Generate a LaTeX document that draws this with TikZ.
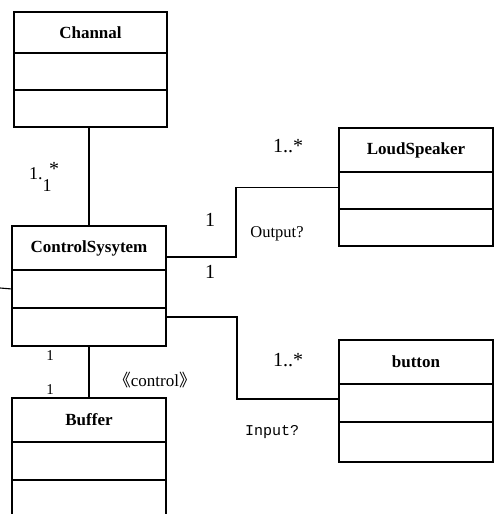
\documentclass[tikz,border=0pt]{standalone}
\usepackage{fontspec}
\setmainfont{Liberation Serif}
\newfontfamily\cjkfont{Noto Sans CJK SC}
\newfontfamily\monofont{Liberation Mono}
\usetikzlibrary{calc}
\begin{document}
\begin{tikzpicture}[x=1pt,y=-1pt]
\tikzset{
  comp/.style={draw, line width=1.5pt, minimum width=154pt, inner sep=0pt, outer sep=0pt,
    anchor=north west, font=\fontsize{17}{17}\selectfont\bfseries},
  conn/.style={line width=1.1pt},
  lab/.style={font=\fontsize{20}{20}\selectfont, inner sep=0pt},
  smlab/.style={font=\fontsize{15}{15}\selectfont, inner sep=0pt},
}
\useasboundingbox[fill=white] (0,0) rectangle (502,514);
\clip (0,0) rectangle (502,514);

% Channal
\node[comp, minimum height=41pt, minimum width=153pt] (ch1) at (14,12) {Channal};
\node[comp, minimum height=37pt, minimum width=153pt] (ch2) at (14,53) {};
\node[comp, minimum height=37pt, minimum width=153pt] (ch3) at (14,90) {};

% ControlSysytem
\node[comp, minimum height=44pt] (cs1) at (12,226) {ControlSysytem};
\node[comp, minimum height=38pt] (cs2) at (12,270) {};
\node[comp, minimum height=38pt] (cs3) at (12,308) {};

% LoudSpeaker
\node[comp, minimum height=44pt] (ls1) at (339,128) {LoudSpeaker};
\node[comp, minimum height=37pt] (ls2) at (339,172) {};
\node[comp, minimum height=37pt] (ls3) at (339,209) {};

% button
\node[comp, minimum height=44pt] (bt1) at (339,340) {button};
\node[comp, minimum height=38pt] (bt2) at (339,384) {};
\node[comp, minimum height=40pt] (bt3) at (339,422) {};

% Buffer
\node[comp, minimum height=44pt] (bf1) at (12,398) {Buffer};
\node[comp, minimum height=38pt] (bf2) at (12,442) {};
\node[comp, minimum height=50pt] (bf3) at (12,480) {};

% connectors
\draw[conn] (cs1.north) -- (cs1.north |- ch3.south);
\coordinate (stub) at (0,288);
\draw[conn] (cs2.west) -- (stub);
\draw[conn] ($(cs1.east)+(0,9)$) -| ($(ls2.west)+(-103,-3)$) -- ($(ls2.west)+(0,-3)$);
\draw[conn] ($(cs3.east)+(0,-10)$) -| ($(bt2.west)+(-102,-4)$) -- ($(bt2.west)+(0,-4)$);
\draw[conn] (cs3.south) -- (bf1.north);

% labels
\node[font=\fontsize{18}{18}\selectfont, inner sep=0pt, anchor=west] (m1a) at (29,174) {1.};
\node[font=\fontsize{18}{18}\selectfont, inner sep=0pt] (m1b) at (47,186) {1};
\node[font=\fontsize{20}{20}\selectfont, inner sep=0pt] (m1c) at (54,169) {*};
\node[lab] (m2) at (288,146) {1..*};
\node[lab] (m3) at (210,220) {1};
\node[lab] (m4) at (210,272) {1};
\node[font=\fontsize{16.5}{16.5}\selectfont, inner sep=0pt] (m5) at (277,234) {Output?};
\node[lab] (m6) at (288,360) {1..*};
\node[font=\fontsize{15}{15}\monofont, inner sep=0pt, anchor=west] (m7) at (245,432) {Input?};
\node[smlab] (m8) at (50,356) {1};
\node[smlab] (m9) at (50,390) {1};
\node[font=\fontsize{17}{17}\selectfont, inner sep=0pt] (m10) at (155,380)
  {{\cjkfont 《}control{\cjkfont 》}};
\end{tikzpicture}
\end{document}
